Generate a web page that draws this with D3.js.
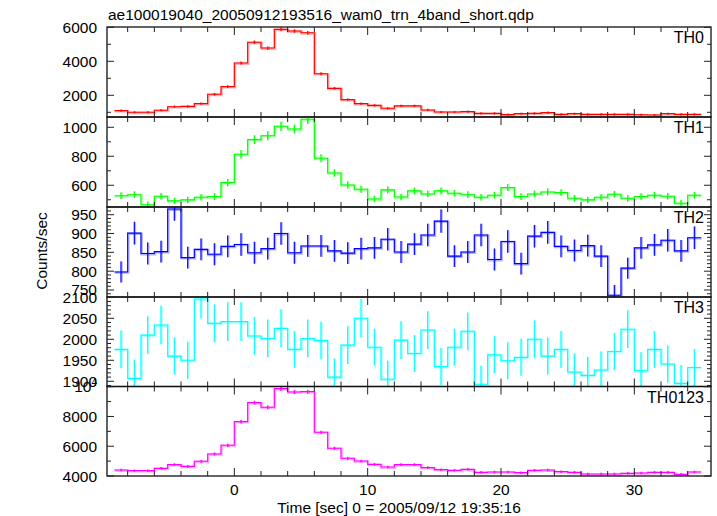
<!DOCTYPE html>
<html><head><meta charset="utf-8">
<script src="https://cdn.jsdelivr.net/npm/d3@7/dist/d3.min.js"></script>
<style>
body{margin:0;background:#fff}
svg{display:block}
text{font-family:"Liberation Sans",Arial,Helvetica,sans-serif;fill:#000}
</style>
</head><body>
<svg id="c" width="717" height="516"></svg>
<script>
// ---- data ----
const title = "ae100019040_20050912193516_wam0_trn_4band_short.qdp";
const xTitle = "Time [sec] 0 = 2005/09/12 19:35:16";
const yTitle = "Counts/sec";
const panelNames = ["TH0", "TH1", "TH2", "TH3", "TH0123"];
const colors = ["#ff0000", "#00ff00", "#0000ff", "#00ffff", "#ff00ff"];

const time = [-8.5,-7.5,-6.5,-5.5,-4.5,-3.5,-2.5,-1.5,-0.5,0.5,1.5,2.5,3.5,4.5,5.5,6.5,7.5,8.5,9.5,10.5,11.5,12.5,13.5,14.5,15.5,16.5,17.5,18.5,19.5,20.5,21.5,22.5,23.5,24.5,25.5,26.5,27.5,28.5,29.5,30.5,31.5,32.5,33.5,34.5];
const halfBin = 0.5;

const th0 = [1100,1000,1000,1120,1330,1350,1510,2060,2510,3900,5120,4780,5880,5780,5680,3270,2410,1745,1510,1410,1235,1380,1380,1140,1020,1020,1040,940,940,865,920,940,980,880,920,880,880,880,880,860,845,920,880,880];
const th0Err = [65,62,62,65,68,68,70,75,80,90,98,95,102,101,100,85,78,72,70,69,66,68,68,66,63,63,64,62,62,60,61,62,63,61,61,61,61,61,61,60,60,61,61,61];

const th1 = [528,535,466,524,492,499,517,522,618,814,915,942,1007,988,1055,786,685,602,572,505,568,519,561,540,561,545,535,517,531,584,522,540,554,549,510,499,517,538,510,522,531,524,476,531];
const th1Err = [23,23,22,23,22,22,23,23,25,29,30,31,32,31,32,28,26,25,24,22,24,23,24,23,24,23,23,23,23,24,23,23,24,23,23,22,23,23,23,23,23,23,22,23];

const th2 = [798,901,847,852,965,836,858,845,866,871,849,860,900,849,867,867,854,848,860,862,885,851,872,896,933,840,851,896,831,879,820,893,903,866,855,868,840,736,808,862,870,882,854,889];
const th2Err = [28,30,29,29,31,29,29,29,29,30,29,29,30,29,29,29,29,29,29,29,30,29,29,30,31,29,29,30,29,30,29,30,30,29,29,29,29,27,28,29,29,30,29,30];

const th3 = [1976,1907,2010,2034,1960,1950,2096,2038,2042,2042,2008,2002,2026,1976,2002,1997,1910,1986,2050,1981,1905,1998,1966,2022,1935,1981,2019,1893,1963,1949,1957,2000,1960,1976,1922,1914,1927,1971,2024,1925,1976,1941,1895,1933];
const th3Err = [45,44,45,46,44,44,46,45,46,46,45,45,45,44,45,45,44,45,46,44,44,45,44,45,44,44,45,44,44,44,44,45,44,44,44,44,44,44,45,44,44,44,44,44];

const th0123 = [4403,4358,4358,4515,4761,4650,4986,5478,6061,7651,8928,8615,9869,9645,9667,6935,5860,5188,5008,4784,4605,4761,4761,4560,4425,4381,4448,4246,4269,4269,4224,4381,4403,4291,4246,4134,4134,4134,4179,4202,4246,4246,4112,4269];
const th0123Err = [85,84,84,86,90,88,92,98,105,120,130,128,135,133,133,112,102,95,92,90,88,90,90,88,86,85,86,84,84,84,84,85,86,84,84,83,83,83,83,84,84,84,83,84];

const xMajorTicks = [0, 10, 20, 30];
const xTickLabels = ["0", "10", "20", "30"];
const xMinorTicks = [-8,-6,-4,-2,2,4,6,8,12,14,16,18,22,24,26,28,32,34];

const th0YMajor = [2000, 4000, 6000];
const th0YLabels = ["2000", "4000", "6000"];
const th0YMinor = [1000, 3000, 5000];
const th1YMajor = [600, 800, 1000];
const th1YLabels = ["600", "800", "1000"];
const th1YMinor = [500, 700, 900];
const th2YMajor = [750, 800, 850, 900, 950];
const th2YLabels = ["750", "800", "850", "900", "950"];
const th2YMinor = [740,760,770,780,790,810,820,830,840,860,870,880,890,910,920,930,940,960,970];
const th3YMajor = [1900, 1950, 2000, 2050, 2100];
const th3YLabels = ["1900", "1950", "2000", "2050", "2100"];
const th3YMinor = [1890,1910,1920,1930,1940,1960,1970,1980,1990,2010,2020,2030,2040,2060,2070,2080,2090];
const th0123YMajor = [4000, 6000, 8000, 10000];
const th0123YLabels = ["4000", "6000", "8000", "10^4"];
const th0123YMinor = [5000, 7000, 9000];

const th0Domain = [724, 6018];
const th1Domain = [450, 1071];
const th2Domain = [731.4, 970.5];
const th3Domain = [1887.6, 2100.7];
const th0123Domain = [4000, 10013];

// ---- layout ----
const svg = d3.select("#c");
const L = 107, R = 711;
const panelTops = [27, 117, 207, 297, 386.5];
const bottom = 476;
const FS = 15.5;

const series = [
  {v: th0, e: th0Err, dom: th0Domain, maj: th0YMajor, lab: th0YLabels, min: th0YMinor},
  {v: th1, e: th1Err, dom: th1Domain, maj: th1YMajor, lab: th1YLabels, min: th1YMinor},
  {v: th2, e: th2Err, dom: th2Domain, maj: th2YMajor, lab: th2YLabels, min: th2YMinor},
  {v: th3, e: th3Err, dom: th3Domain, maj: th3YMajor, lab: th3YLabels, min: th3YMinor},
  {v: th0123, e: th0123Err, dom: th0123Domain, maj: th0123YMajor, lab: th0123YLabels, min: th0123YMinor}
];

const x = d3.scaleLinear().domain([-9.55, 35.75]).range([L, R]);

series.forEach((s, i) => {
  const top = panelTops[i];
  const bot = i < 4 ? panelTops[i + 1] : bottom;
  const y = d3.scaleLinear().domain(s.dom).range([bot, top]);
  const g = svg.append("g");
  const clipId = "clip" + i;
  svg.append("clipPath").attr("id", clipId).append("rect")
    .attr("x", L).attr("y", top).attr("width", R - L).attr("height", bot - top);

  const pts = [];
  time.forEach((t, k) => { pts.push([t - halfBin, s.v[k]]); pts.push([t + halfBin, s.v[k]]); });
  const line = d3.line().x(d => x(d[0])).y(d => y(d[1]));
  const dg = g.append("g").attr("clip-path", `url(#${clipId})`);
  // soft underlay
  dg.append("path").attr("d", line(pts)).attr("fill", "none")
    .attr("stroke", colors[i]).attr("stroke-opacity", 0.3).attr("stroke-width", 2.6)
    .attr("transform", "translate(0.6,0.6)");
  dg.selectAll("line.eu").data(time).enter().append("line")
    .attr("x1", t => x(t) + 0.6).attr("x2", t => x(t) + 0.6)
    .attr("y1", (t, k) => y(s.v[k] - s.e[k])).attr("y2", (t, k) => y(s.v[k] + s.e[k]))
    .attr("stroke", colors[i]).attr("stroke-opacity", 0.3).attr("stroke-width", 2.4);
  dg.append("path").attr("d", line(pts)).attr("fill", "none")
    .attr("stroke", colors[i]).attr("stroke-width", 1.1);
  dg.selectAll("line.e").data(time).enter().append("line")
    .attr("x1", t => x(t)).attr("x2", t => x(t))
    .attr("y1", (t, k) => y(s.v[k] - s.e[k])).attr("y2", (t, k) => y(s.v[k] + s.e[k]))
    .attr("stroke", colors[i]).attr("stroke-width", 1.1);

  // frame
  g.append("rect").attr("x", L).attr("y", top).attr("width", R - L).attr("height", bot - top)
    .attr("fill", "none").attr("stroke", "#111").attr("stroke-width", 1.3);

  // x ticks top & bottom
  const tk = g.append("g").attr("stroke", "#222").attr("stroke-width", 1);
  xMajorTicks.forEach(t => {
    tk.append("line").attr("x1", x(t)).attr("x2", x(t)).attr("y1", bot).attr("y2", bot - 8);
    tk.append("line").attr("x1", x(t)).attr("x2", x(t)).attr("y1", top).attr("y2", top + 8);
  });
  xMinorTicks.forEach(t => {
    tk.append("line").attr("x1", x(t)).attr("x2", x(t)).attr("y1", bot).attr("y2", bot - 5);
    tk.append("line").attr("x1", x(t)).attr("x2", x(t)).attr("y1", top).attr("y2", top + 5);
  });
  // y ticks left & right
  s.maj.forEach(v => {
    tk.append("line").attr("x1", L).attr("x2", L + 7).attr("y1", y(v)).attr("y2", y(v));
    tk.append("line").attr("x1", R).attr("x2", R - 7).attr("y1", y(v)).attr("y2", y(v));
  });
  s.min.forEach(v => {
    tk.append("line").attr("x1", L).attr("x2", L + 4).attr("y1", y(v)).attr("y2", y(v));
    tk.append("line").attr("x1", R).attr("x2", R - 4).attr("y1", y(v)).attr("y2", y(v));
  });
  // y labels
  s.maj.forEach((v, k) => {
    const t = g.append("text").attr("x", L - 10).attr("y", y(v) + 5.5).attr("text-anchor", "end")
      .attr("font-size", FS);
    const lab = s.lab[k];
    if (lab.includes("^")) {
      const [b, p] = lab.split("^");
      t.append("tspan").text(b);
      t.append("tspan").attr("dy", -6).attr("font-size", 10).text(p);
    } else {
      t.text(lab);
    }
  });
  // panel name
  g.append("text").attr("x", 704).attr("y", top + 16.3).attr("text-anchor", "end")
    .attr("font-size", 16).text(panelNames[i]);
});

// x tick labels on bottom
xMajorTicks.forEach((t, k) => {
  svg.append("text").attr("x", x(t)).attr("y", 495).attr("text-anchor", "middle")
    .attr("font-size", FS).text(xTickLabels[k]);
});
svg.append("text").attr("x", 399).attr("y", 513).attr("text-anchor", "middle")
  .attr("font-size", FS).text(xTitle);
svg.append("text").attr("transform", "translate(47,251) rotate(-90)").attr("text-anchor", "middle")
  .attr("font-size", FS).text(yTitle);
svg.append("text").attr("x", 108).attr("y", 20).attr("font-size", FS).text(title);
</script>
</body></html>
